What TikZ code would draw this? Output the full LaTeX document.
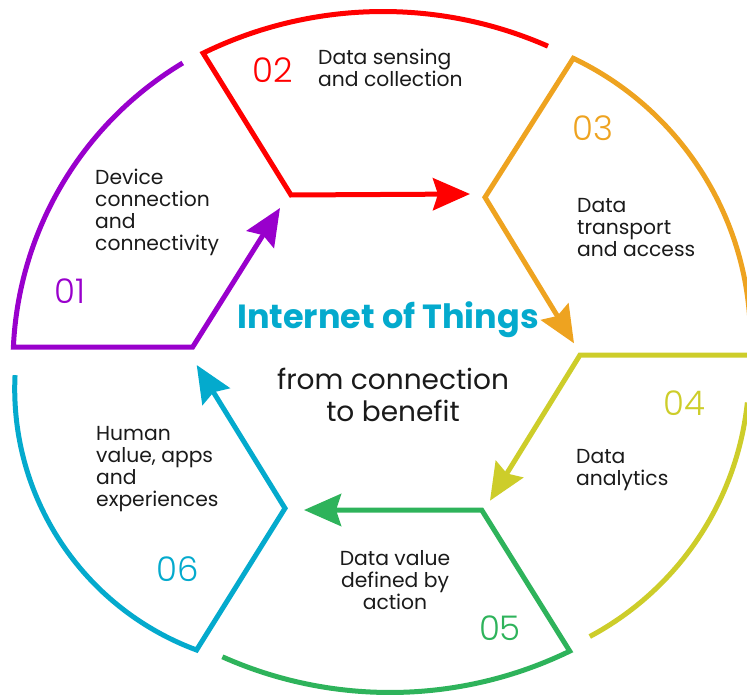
\documentclass[tikz,border=0pt]{standalone}
\usepackage{fontspec}
\setmainfont{Poppins}
\IfFontExistsTF{Poppins Light}{\newfontfamily\numfont{Poppins Light}}{\newfontfamily\numfont{Poppins}}
\usetikzlibrary{arrows.meta}

\definecolor{segpurple}{HTML}{9900CC}
\definecolor{segred}{HTML}{FF0000}
\definecolor{segorange}{HTML}{EEA320}
\definecolor{segolive}{HTML}{CDCD2A}
\definecolor{seggreen}{HTML}{2EB35B}
\definecolor{segcyan}{HTML}{04AACD}
\definecolor{textdark}{HTML}{1A1A1A}

\begin{document}
\begin{tikzpicture}[x=1pt,y=-1pt,
  seg/.style={line width=5pt},
  tipped/.style={seg,-{Stealth[length=37pt,width=32pt,inset=5pt]}},
  num/.style={font=\numfont\fontsize{34}{34}\selectfont,inner sep=0pt},
  lbl/.style={font=\fontsize{20.3}{22}\selectfont,text=textdark,align=left,anchor=north west,inner sep=0pt}]
\useasboundingbox (0,0) rectangle (747,695);

% Inner corners
\coordinate (in1) at (192.7,347);
\coordinate (in2) at (291,195);
\coordinate (in3) at (485,197.3);
\coordinate (in4) at (580,355);
\coordinate (in5) at (481.7,510);
\coordinate (in6) at (285,508.3);

% Arrow tips
\coordinate (tip1) at (280,208);
\coordinate (tip2) at (470,194);
\coordinate (tip3) at (574,343.3);
\coordinate (tip4) at (490,500.7);
\coordinate (tip5) at (304,510);
\coordinate (tip6) at (196.7,365);

% Segments
\draw[tipped,segpurple] ([shift={(121:350pt)}]363,363) arc[start angle=121,end angle=177.4,radius=350pt] -- (in1) -- (tip1);
\draw[tipped,segred] ([shift={(66.25:409.5pt)}]383,421) arc[start angle=66.25,end angle=116.06,radius=409.5pt] -- (in2) -- (tip2);
\draw[tipped,segorange] ([shift={(2:311pt)}]439.4,339) arc[start angle=2,end angle=64.5,radius=311pt] -- (in3) -- (tip3);
\draw[tipped,segolive] (752,355) -- (in4) -- (tip4);
\draw[seg,segolive] ([shift={(-6:301pt)}]448,371) arc[start angle=-6,end angle=-61.9,radius=301pt];
\draw[tipped,seggreen] ([shift={(-114.04:411.5pt)}]390,281) arc[start angle=-114.04,end angle=-64.1,radius=411.5pt] -- (in5) -- (tip5);
\draw[tipped,segcyan] ([shift={(177.2:278.5pt)}]293.2,388.8) arc[start angle=177.2,end angle=249.7,radius=278.5pt] -- (in6) -- (tip6);

% Numbers
\node[num,text=segpurple] (n01) at (69.5,291.5) {01};
\node[num,text=segred] (n02) at (273,70) {02};
\node[num,text=segorange] (n03) at (592.7,128.3) {03};
\node[num,text=segolive] (n04) at (684.7,402.7) {04};
\node[num,text=seggreen] (n05) at (500,628.3) {05};
\node[num,text=segcyan] (n06) at (177.3,569) {06};

% Labels
\node[lbl] (l01) at (95,169) {Device\\connection\\and\\connectivity};
\node[lbl] (l02) at (318,49) {Data sensing\\and collection};
\node[lbl] (l03) at (577,198) {Data\\transport\\and access};
\node[lbl] (l04) at (576,449) {Data\\analytics};
\node[lbl,align=center,anchor=north] (l05) at (395,550) {Data value\\defined by\\action};
\node[lbl] (l06) at (96,426) {Human\\value, apps\\and\\experiences};

% Centre
\node[font=\bfseries\fontsize{33.5}{34}\selectfont,text=segcyan,anchor=base,inner sep=0pt] (title) at (388,328) {Internet of Things};
\node[font=\fontsize{28}{32}\selectfont,text=textdark,align=center,anchor=north,inner sep=0pt] (sub) at (393,368) {from connection\\to benefit};
\end{tikzpicture}
\end{document}
